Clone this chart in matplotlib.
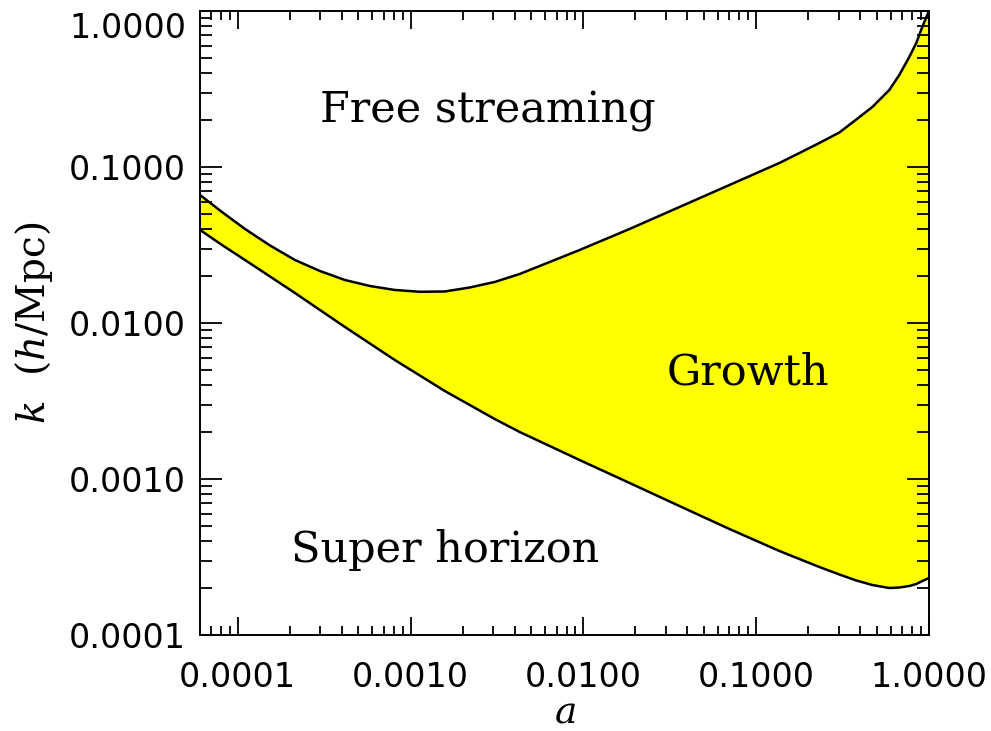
import numpy as np
import matplotlib
matplotlib.use("Agg")
import matplotlib.pyplot as plt
from matplotlib.ticker import FixedLocator, FixedFormatter, LogLocator, NullFormatter
from matplotlib.transforms import ScaledTranslation

# Datos
a_vals = [6.055e-5, 8.11e-5, 1.102e-4, 1.537e-4, 2.144e-4, 2.990e-4, 4.172e-4,
          5.816e-4, 8.11e-4, 1.132e-3, 1.579e-3, 2.202e-3, 3.071e-3, 4.283e-3,
          6.386e-3, 9.52e-3, 1.852e-2, 3.602e-2, 7.010e-2, 0.1364, 0.1780,
          0.2322, 0.3031, 0.3800, 0.4702, 0.5896, 0.6735, 0.7694, 0.8446,
          0.9147, 1.0]
k_free_streaming = [0.0661, 0.05146, 0.04005, 0.03140, 0.02534, 0.02154, 0.01886,
                    0.01727, 0.01628, 0.01585, 0.01592, 0.01689, 0.01832, 0.02061,
                    0.02460, 0.02937, 0.04005, 0.05541, 0.07667, 0.1061, 0.1229,
                    0.1425, 0.1664, 0.2016, 0.2424, 0.3116, 0.3888, 0.5071, 0.6235,
                    0.7897, 1.0]
k_horizon = [0.0395, 0.03162, 0.02534, 0.01987, 0.01557, 0.01212, 0.00943,
             0.00739, 0.005791, 0.004608, 0.003665, 0.002981, 0.002424, 0.002001,
             0.001628, 0.001323, 0.000943, 0.000671, 0.000478, 0.0003455, 0.000307,
             0.0002729, 0.0002443, 0.0002236, 0.0002092, 0.0002001, 0.0002016,
             0.0002061, 0.0002123, 0.0002219, 0.0002319]

tick_vals = [1e-4, 1e-3, 1e-2, 1e-1, 1.0]
tick_labels = ["0.0001", "0.0010", "0.0100", "0.1000", "1.0000"]

plt.rcParams["mathtext.fontset"] = "dejavuserif"

fig = plt.figure(figsize=(9.91, 7.31), dpi=100)
ax = fig.add_axes([0.2018, 0.1313, 0.7356, 0.8537])

# Region de crecimiento
ax.fill_between(a_vals, k_horizon, k_free_streaming, color="#FFFF00", linewidth=0)
ax.plot(a_vals, k_free_streaming, color="black", lw=1.8, solid_joinstyle="round")
ax.plot(a_vals, k_horizon, color="black", lw=1.8, solid_joinstyle="round")

ax.set_xscale("log")
ax.set_yscale("log")
ax.set_xlim(6.05e-5, 1.0)
ax.set_ylim(1e-4, 1.0)

for axis in (ax.xaxis, ax.yaxis):
    axis.set_major_locator(FixedLocator(tick_vals))
    axis.set_major_formatter(FixedFormatter(tick_labels))
    axis.set_minor_locator(LogLocator(base=10, subs=np.arange(2, 10)))
    axis.set_minor_formatter(NullFormatter())

ax.tick_params(which="both", direction="in", top=True, right=True, width=1.3,
               labelsize=24)
ax.tick_params(axis="x", which="major", length=13, pad=19)
ax.tick_params(axis="x", which="minor", length=6.5)
ax.tick_params(axis="y", which="major", length=16, pad=10)
ax.tick_params(axis="y", which="minor", length=8.5)
for s in ax.spines.values():
    s.set_linewidth(1.4)

# la etiqueta superior va un poco mas abajo, como en el original
top_lbl = ax.yaxis.get_major_ticks()[-1].label1
top_lbl.set_transform(top_lbl.get_transform() +
                      ScaledTranslation(0, -10 / 72, fig.dpi_scale_trans))

ax.set_xlabel(r"$a$", fontsize=27, labelpad=0)
ax.set_ylabel(r"$k$  ($h$/Mpc)", fontsize=28, family="DejaVu Serif", labelpad=10)

ax.text(3.0e-4, 0.194, "Free streaming", fontsize=31, family="DejaVu Serif",
        ha="left", va="baseline")
ax.text(0.0303, 0.00401, "Growth", fontsize=31, family="DejaVu Serif",
        ha="left", va="baseline")
ax.text(2.03e-4, 2.94e-4, "Super horizon", fontsize=31, family="DejaVu Serif",
        ha="left", va="baseline")

fig.savefig("out.png", dpi=100)
